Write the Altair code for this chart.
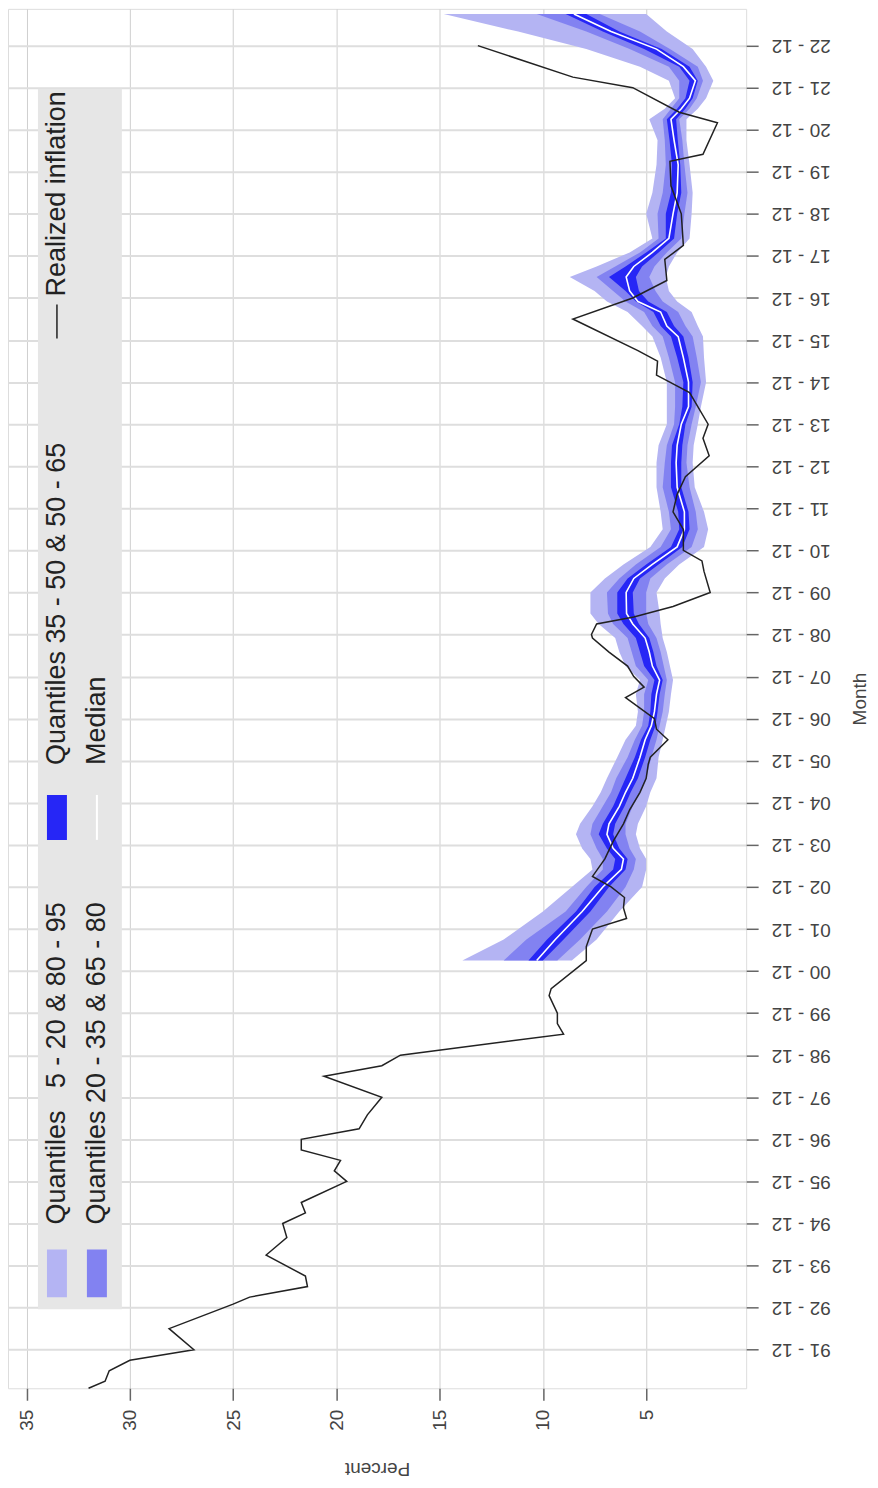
import altair as alt
import pandas as pd

# ---------------- data ----------------
real_month = ["1991-01","1991-03","1991-06","1991-09","1991-12","1992-06","1993-01","1993-03","1993-06","1993-09",
              "1994-03","1994-08","1994-12","1995-03","1995-06","1995-12","1996-03","1996-06","1996-09","1996-12",
              "1997-03","1997-07","1997-12","1998-06","1998-09","1998-12","1999-06","1999-09","1999-12","2000-05",
              "2000-07","2001-03","2001-07","2001-12","2002-03","2002-06","2002-09","2002-12","2003-03","2003-08",
              "2004-01","2004-06","2004-10","2005-03","2005-07","2005-11","2006-01","2006-06","2006-09","2006-12",
              "2007-03","2007-06","2007-09","2007-12","2008-03","2008-07","2008-11","2008-12","2009-03","2009-05",
              "2009-08","2009-12","2010-06","2010-09","2010-12","2011-06","2011-11","2012-04","2012-09","2013-03",
              "2013-08","2013-12","2014-09","2015-02","2015-06","2015-09","2016-06","2016-12","2017-05","2017-11",
              "2018-03","2018-12","2019-08","2020-03","2020-05","2021-02","2021-05","2021-12","2022-03","2022-12"]
real_value = [32.0, 31.2, 31.0, 30.0, 26.9, 28.1, 25.0, 24.2, 21.4, 21.5,
              23.4, 22.4, 22.6, 21.5, 21.7, 19.5, 20.1, 19.8, 21.7, 21.7,
              18.9, 18.5, 17.8, 20.6, 17.8, 16.9, 9.0, 9.3, 9.3, 9.7,
              9.6, 7.9, 7.9, 7.6, 5.95, 6.1, 6.05, 6.7, 7.6, 7.0,
              6.6, 6.1, 5.8, 5.3, 5.0, 4.9, 4.8, 3.95, 4.5, 4.6,
              5.3, 6.0, 5.1, 5.6, 5.9, 6.8, 7.6, 7.65, 7.4, 5.6,
              3.7, 1.9, 2.2, 2.3, 3.2, 3.2, 3.7, 3.5, 3.1, 1.95,
              2.25, 2.0, 2.9, 4.5, 4.45, 5.4, 8.55, 5.65, 4.0, 4.1,
              3.2, 3.3, 3.8, 3.85, 2.25, 1.55, 3.4, 5.65, 8.55, 13.15]

band_month = ["2001-03","2001-09","2002-05","2002-12","2003-05","2003-08","2003-11","2004-03","2004-06","2004-11",
              "2005-03","2005-07","2006-01","2006-06","2006-10","2007-02","2007-07","2007-11","2008-03","2008-07",
              "2008-11","2009-03","2009-06","2009-12","2010-04","2010-08","2011-01","2011-06","2011-11","2012-06",
              "2013-01","2013-06","2013-12","2014-05","2014-12","2015-07","2016-01","2016-04","2016-08","2016-11",
              "2017-02","2017-06","2017-09","2018-01","2018-05","2018-12","2019-06","2020-02","2020-09","2021-03",
              "2021-06","2021-09","2022-02","2022-06","2022-11","2023-04","2023-09"]
q05 = [13.9, 11.9, 10.0, 8.6, 7.6, 7.7, 8.1, 8.4, 8.2, 7.6,
       7.2, 6.9, 6.4, 6.0, 5.5, 5.4, 5.5, 5.3, 6.0, 6.3,
       6.5, 7.3, 7.7, 7.7, 7.0, 6.1, 4.8, 4.2, 4.3, 4.5,
       4.5, 4.4, 4.0, 4.0, 4.0, 4.3, 4.7, 5.2, 5.9, 6.9,
       7.5, 8.7, 7.4, 5.8, 4.7, 5.0, 4.7, 4.5, 4.45, 4.85,
       4.1, 3.6, 3.9, 5.3, 7.9, 11.2, 14.8]
q20 = [11.9, 10.8, 8.9, 7.9, 7.1, 7.1, 7.4, 7.7, 7.6, 7.1,
       6.7, 6.45, 5.9, 5.55, 5.2, 5.1, 5.1, 4.9, 5.5, 5.7,
       5.9, 6.6, 6.85, 6.9, 6.3, 5.5, 4.3, 3.8, 3.9, 4.2,
       4.1, 4.0, 3.65, 3.6, 3.6, 3.9, 4.2, 4.7, 5.1, 6.0,
       6.6, 7.4, 6.5, 5.3, 4.4, 4.45, 4.2, 4.05, 4.1, 4.2,
       3.8, 3.4, 3.4, 3.9, 5.8, 7.9, 10.3]
q35 = [10.7, 9.8, 8.4, 7.5, 6.6, 6.5, 6.9, 7.3, 7.1, 6.6,
       6.3, 6.0, 5.55, 5.25, 4.9, 4.8, 4.75, 4.6, 5.1, 5.3,
       5.5, 6.1, 6.4, 6.4, 5.9, 5.0, 3.8, 3.4, 3.45, 3.8,
       3.8, 3.75, 3.4, 3.25, 3.2, 3.5, 3.8, 4.3, 4.65, 5.5,
       6.0, 6.8, 6.0, 5.0, 4.05, 4.05, 3.8, 3.75, 3.87, 4.0,
       3.5, 3.1, 2.9, 3.4, 5.1, 7.1, 8.9]
q50 = [10.3, 9.4, 8.1, 7.1, 6.2, 6.1, 6.6, 6.9, 6.8, 6.3,
       6.0, 5.65, 5.3, 5.05, 4.75, 4.6, 4.5, 4.35, 4.7, 4.85,
       5.05, 5.65, 5.95, 5.97, 5.6, 4.7, 3.5, 3.15, 3.15, 3.5,
       3.55, 3.5, 3.3, 2.95, 2.95, 3.2, 3.45, 4.0, 4.3, 5.4,
       5.8, 5.97, 5.6, 4.7, 3.9, 3.7, 3.5, 3.45, 3.65, 3.8,
       3.3, 2.9, 2.62, 3.2, 4.5, 6.7, 8.5]
q65 = [10.0, 9.0, 7.7, 6.8, 6.0, 5.9, 6.3, 6.6, 6.5, 6.05,
       5.75, 5.4, 5.05, 4.8, 4.55, 4.45, 4.35, 4.2, 4.5, 4.65,
       4.85, 5.35, 5.6, 5.65, 5.3, 4.4, 3.25, 2.9, 2.95, 3.3,
       3.3, 3.25, 3.1, 2.8, 2.75, 2.95, 3.2, 3.65, 4.0, 4.9,
       5.35, 5.5, 5.2, 4.4, 3.65, 3.5, 3.3, 3.35, 3.47, 3.55,
       3.1, 2.75, 2.5, 2.9, 4.25, 6.3, 7.9]
q80 = [9.3, 8.2, 6.9, 6.0, 5.6, 5.5, 5.8, 6.0, 6.0, 5.65,
       5.3, 5.0, 4.75, 4.5, 4.35, 4.2, 4.1, 4.0, 4.15, 4.3,
       4.5, 4.9, 5.0, 5.0, 4.8, 4.0, 2.8, 2.5, 2.6, 2.9,
       3.05, 3.0, 2.8, 2.6, 2.35, 2.55, 2.75, 3.1, 3.45, 4.2,
       4.55, 4.85, 4.6, 4.0, 3.3, 3.15, 3.0, 3.15, 3.25, 3.4,
       2.9, 2.55, 2.25, 2.5, 3.85, 5.3, 7.25]
q95 = [8.6, 7.4, 6.3, 5.2, 5.0, 5.0, 5.3, 5.5, 5.4, 5.0,
       4.8, 4.5, 4.4, 4.2, 4.05, 3.9, 3.8, 3.7, 3.85, 4.0,
       4.2, 4.3, 4.35, 4.5, 4.1, 3.4, 2.2, 2.0, 2.2, 2.65,
       2.75, 2.7, 2.5, 2.35, 2.1, 2.2, 2.25, 2.5, 2.8, 3.5,
       3.9, 4.05, 3.9, 3.5, 2.9, 2.8, 2.75, 2.9, 3.05, 3.05,
       2.5, 2.1, 1.75, 2.1, 2.75, 4.0, 5.0]

tick_years = list(range(1991, 2023))
pct_ticks = [5, 10, 15, 20, 25, 30, 35]

legend_labels = ["Quantiles\u00a0\u00a0 5 - 20 & 80 - 95", "Quantiles 20 - 35 & 65 - 80",
                 "Quantiles 35 - 50 & 50 - 65", "Median", "Realized inflation"]

# ---------------- build tables ----------------
def dec(m):
    y, mo = m.split("-")
    return int(y) + (int(mo) - 1) / 12.0

real = pd.DataFrame({"t": [dec(m) for m in real_month], "v": real_value})
bands = pd.DataFrame({"t": [dec(m) for m in band_month], "q05": q05, "q20": q20, "q35": q35,
                      "q50": q50, "q65": q65, "q80": q80, "q95": q95})
year_ticks = [y + 11 / 12.0 for y in tick_years]

LIGHT = "#b4b4f3"
MED = "#8282f1"
DARK = "#2626f6"
FONT = "Liberation Sans"
TXT = "#444444"

xs = alt.Scale(domain=[0.16, 35.9], reverse=True, nice=False, zero=False)
ys = alt.Scale(domain=[1991.0, 2023.79], nice=False, zero=False)

xax = alt.Axis(orient="bottom", values=pct_ticks, title="Percent", tickSize=12, tickColor="#666666",
               tickWidth=1.5, labelAngle=270, labelAlign="right", labelBaseline="middle",
               labelPadding=9, labelFontSize=19, labelColor=TXT, labelFont=FONT,
               titleAngle=180, titleBaseline="bottom", titleFontSize=19, titleFontWeight="normal",
               titleColor=TXT, titleFont=FONT, titlePadding=28,
               grid=True, gridColor="#cfcfcf", gridWidth=1, domain=False, labelOverlap=False)
yax = alt.Axis(orient="right", values=year_ticks,
               labelExpr="(floor(datum.value) % 100 < 10 ? '0' : '') + (floor(datum.value) % 100) + ' - 12'",
               title="Month", tickSize=12, tickColor="#666666", tickWidth=1.5,
               labelAngle=180, labelAlign="right", labelBaseline="middle", labelPadding=13,
               labelFontSize=19, labelColor=TXT, labelFont=FONT,
               titleAngle=270, titleBaseline="top", titleFontSize=19, titleFontWeight="normal",
               titleColor=TXT, titleFont=FONT, titlePadding=20,
               grid=True, gridColor="#dedede", gridWidth=2, domain=False, labelOverlap=False)

base = alt.Chart(bands)

outer = base.mark_area(orient="horizontal", color=LIGHT, opacity=1).encode(
    y=alt.Y("t:Q", scale=ys, axis=yax),
    x=alt.X("q05:Q", scale=xs, axis=xax),
    x2="q95:Q",
)
middle = base.mark_area(orient="horizontal", color=MED, opacity=1).encode(
    y=alt.Y("t:Q", scale=ys, axis=yax),
    x=alt.X("q20:Q", scale=xs, axis=xax),
    x2="q80:Q",
)
inner = base.mark_area(orient="horizontal", color=DARK, opacity=1).encode(
    y=alt.Y("t:Q", scale=ys, axis=yax),
    x=alt.X("q35:Q", scale=xs, axis=xax),
    x2="q65:Q",
)
median = base.mark_line(color="white", strokeWidth=1.6).encode(
    y=alt.Y("t:Q", scale=ys, axis=yax),
    x=alt.X("q50:Q", scale=xs, axis=xax),
    order="t:Q",
)
realized = alt.Chart(real).mark_line(color="#222222", strokeWidth=1.5).encode(
    y=alt.Y("t:Q", scale=ys, axis=yax),
    x=alt.X("v:Q", scale=xs, axis=xax),
    order="t:Q",
)

# ---------------- hand-made legend (rotated like the reference) ----------------
one = pd.DataFrame({"a": [0]})
leg_box = alt.Chart(one).mark_rect(color="#e6e6e6").encode(
    x=alt.value(30), x2=alt.value(114), y=alt.value(80), y2=alt.value(1302))
sw_light = alt.Chart(one).mark_rect(color=LIGHT).encode(
    x=alt.value(39), x2=alt.value(59), y=alt.value(1242), y2=alt.value(1290))
sw_med = alt.Chart(one).mark_rect(color=MED).encode(
    x=alt.value(79), x2=alt.value(99), y=alt.value(1242), y2=alt.value(1290))
sw_dark = alt.Chart(one).mark_rect(color=DARK).encode(
    x=alt.value(39), x2=alt.value(59), y=alt.value(787), y2=alt.value(832))
sw_median = alt.Chart(one).mark_rule(color="white", strokeWidth=2).encode(
    x=alt.value(89), y=alt.value(787), y2=alt.value(832))
sw_real = alt.Chart(one).mark_rule(color="#222222", strokeWidth=1.5).encode(
    x=alt.value(49), y=alt.value(296), y2=alt.value(330))

def leg_text(label, px, py):
    return alt.Chart(one).mark_text(text=label, angle=270, align="left", baseline="middle",
                                    fontSize=27, font=FONT, color="#222222").encode(
        x=alt.value(px), y=alt.value(py))

texts = [leg_text(legend_labels[0], 49, 1217), leg_text(legend_labels[1], 89, 1217),
         leg_text(legend_labels[2], 49, 757), leg_text(legend_labels[3], 89, 757),
         leg_text(legend_labels[4], 49, 288)]

chart = alt.layer(outer, middle, inner, median, realized,
                  leg_box, sw_light, sw_med, sw_dark, sw_median, sw_real, *texts).properties(
    width=739, height=1381,
    padding={"left": 0, "top": 0, "right": 0, "bottom": 2},
).configure_view(stroke="#8c8c8c", strokeWidth=2).configure(font=FONT)

chart.save("out.html", embed_options={"renderer": "svg", "actions": False})
